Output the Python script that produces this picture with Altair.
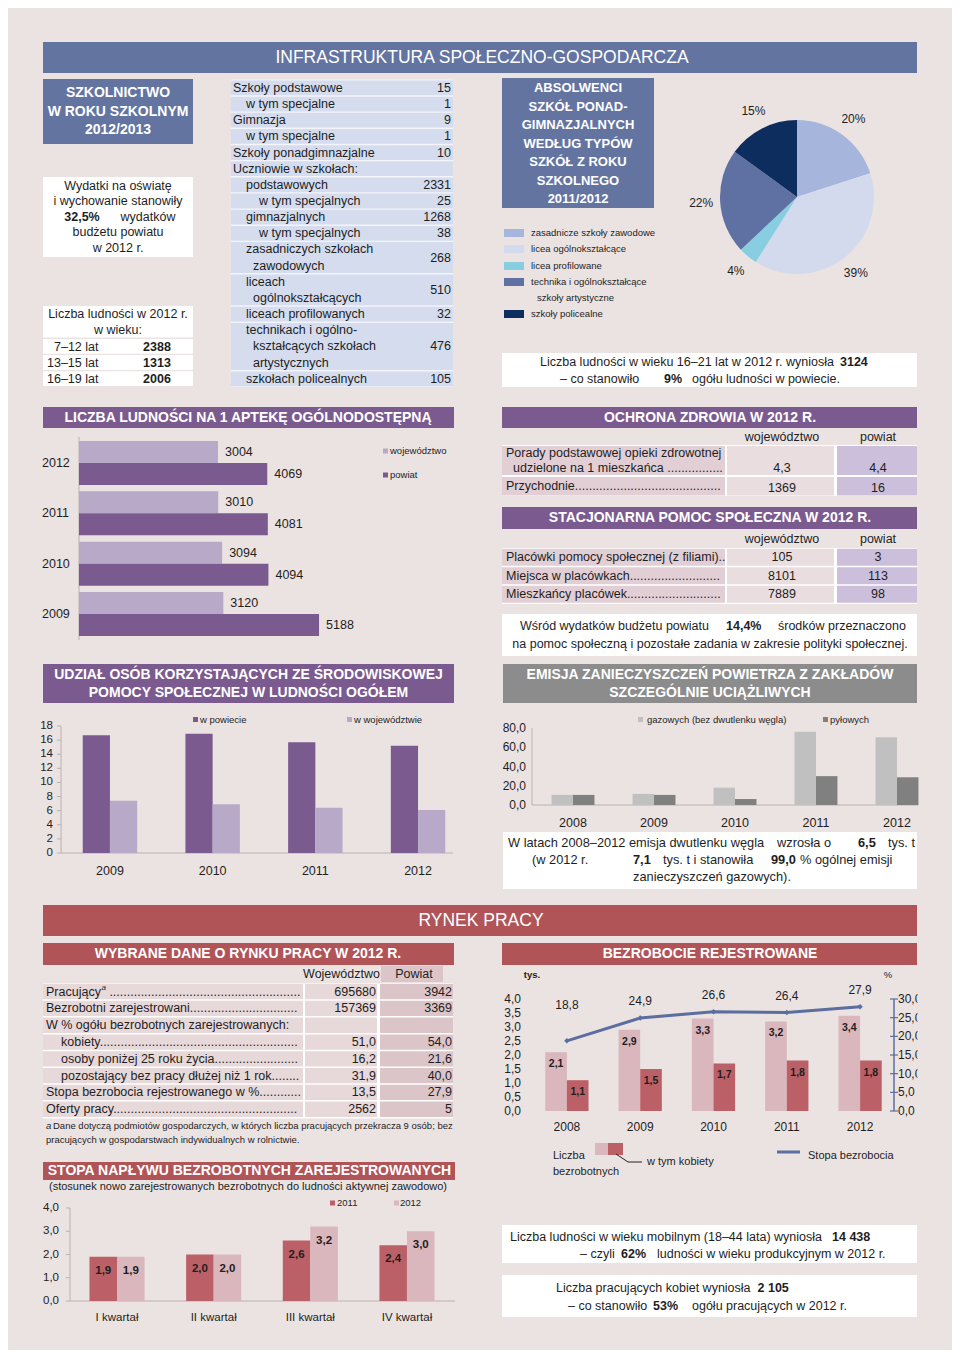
import altair as alt
import pandas as pd

OX = OY = 8
W, H = 944, 1342
FONT = "Liberation Sans"
BG = "#ebe3e1"; WHITE = "#ffffff"; TXT = "#1e1e1e"
SLATE = "#6474a1"; TBLUE = "#d4dcee"
PURPLE = "#7b5b8f"; LPURPLE = "#b9a9c9"
GREY = "#8c8c8c"; LGREY = "#c0c0c0"; DGREY = "#808080"
RED = "#b05458"; RED2 = "#bb6066"; LPINK = "#dab6bd"
HC_LABEL = "#e2ced5"; HC_WOJ = "#e9dde0"; HC_POW = "#ccbfdb"
LC_LABEL = "#e7d8da"; LC_POW = "#dcc5c9"
AXIS = "#b8b2b2"; LINEC = "#5b6e9f"

# ------------------------------------------------------------------ data
header_title = "INFRASTRUKTURA SPOŁECZNO-GOSPODARCZA"
labour_title = "RYNEK PRACY"
school_title = ["SZKOLNICTWO", "W ROKU SZKOLNYM", "2012/2013"]
edu_share = "32,5%"
age_groups = ["7–12 lat", "13–15 lat", "16–19 lat"]
age_pop = ["2388", "1313", "2006"]
school_rows = [["Szkoły podstawowe"], ["w tym specjalne"], ["Gimnazja"], ["w tym specjalne"],
               ["Szkoły ponadgimnazjalne"], ["Uczniowie w szkołach:"], ["podstawowych"],
               ["w tym specjalnych"], ["gimnazjalnych"], ["w tym specjalnych"],
               ["zasadniczych szkołach", "zawodowych"], ["liceach", "ogólnokształcących"],
               ["liceach profilowanych"],
               ["technikach i ogólno-", "kształcących szkołach", "artystycznych"],
               ["szkołach policealnych"]]
school_levels = [0, 1, 0, 1, 0, 0, 1, 2, 1, 2, 1, 1, 1, 1, 1]
school_values = ["15", "1", "9", "1", "10", "", "2331", "25", "1268", "38", "268", "510", "32", "476", "105"]

grad_title = ["ABSOLWENCI", "SZKÓŁ PONAD-", "GIMNAZJALNYCH", "WEDŁUG TYPÓW", "SZKÓŁ Z ROKU",
              "SZKOLNEGO", "2011/2012"]
grad_types = ["zasadnicze szkoły zawodowe", "licea ogólnokształcące", "licea profilowane",
              "technika i ogólnokształcące szkoły artystyczne", "szkoły policealne"]
grad_share = [20, 39, 4, 22, 15]
grad_colors = ["#a5b5dc", "#d3daee", "#86cee0", "#5f71a2", "#0d2d5e"]
pop_16_21 = "3124"; pop_16_21_share = "9%"

pharm_years = ["2012", "2011", "2010", "2009"]
pharm_woj = [3004, 3010, 3094, 3120]
pharm_pow = [4069, 4081, 4094, 5188]

health_woj = ["4,3", "1369"]
health_pow = ["4,4", "16"]
aid_labels = ["Placówki pomocy społecznej (z filiami)..", "Miejsca w placówkach", "Mieszkańcy placówek"]
aid_woj = ["105", "8101", "7889"]
aid_pow = ["3", "113", "98"]
aid_budget = "14,4%"

sa_years = ["2009", "2010", "2011", "2012"]
sa_pow = [16.7, 16.9, 15.7, 15.2]
sa_woj = [7.4, 6.9, 6.4, 6.1]
sa_ticks = [0, 2, 4, 6, 8, 10, 12, 14, 16, 18]

em_years = ["2008", "2009", "2010", "2011", "2012"]
em_gas = [10.5, 11.5, 18.0, 76.0, 70.3]
em_dust = [10.5, 10.5, 6.2, 30.0, 28.8]
em_ticks = [0, 20, 40, 60, 80]
co2_growth = "6,5"; co2_2012 = "7,1"; co2_share = "99,0"

lab_labels = ["Pracujący", "Bezrobotni zarejestrowani", "W % ogółu bezrobotnych zarejestrowanych:",
              "kobiety", "osoby poniżej 25 roku życia", "pozostający bez pracy dłużej niż 1 rok",
              "Stopa bezrobocia rejestrowanego w %", "Oferty pracy"]
lab_levels = [0, 0, 0, 1, 1, 1, 0, 0]
lab_woj = ["695680", "157369", "", "51,0", "16,2", "31,9", "13,5", "2562"]
lab_pow = ["3942", "3369", "", "54,0", "21,6", "40,0", "27,9", "5"]

bz_years = ["2008", "2009", "2010", "2011", "2012"]
bz_total = [2.1, 2.9, 3.3, 3.2, 3.4]
bz_women = [1.1, 1.5, 1.7, 1.8, 1.8]
bz_rate = [18.8, 24.9, 26.6, 26.4, 27.9]
bz_ticks_l = [0, 0.5, 1.0, 1.5, 2.0, 2.5, 3.0, 3.5, 4.0]
bz_ticks_r = [0, 5, 10, 15, 20, 25, 30]

in_quarters = ["I kwartał", "II kwartał", "III kwartał", "IV kwartał"]
in_2011 = [1.9, 2.0, 2.6, 2.4]
in_2012 = [1.9, 2.0, 3.2, 3.0]
in_ticks = [0, 1, 2, 3, 4]

mobile_pop = "14 438"; mobile_share = "62%"
women_work = "2 105"; women_share = "53%"


def fmt1(v):
    return f"{v:.1f}".replace(".", ",")


# ------------------------------------------------------------------ text metrics (Arial-like)
CW = dict(zip("abcdefghijklmnopqrstuvwxyz",
              [556, 556, 500, 556, 556, 278, 556, 556, 222, 222, 500, 222, 833, 556, 556, 556, 556, 333,
               500, 278, 556, 500, 722, 500, 500, 500]))
CW.update(dict(zip("ABCDEFGHIJKLMNOPQRSTUVWXYZ",
                   [667, 667, 722, 722, 667, 611, 778, 722, 278, 500, 667, 556, 833, 722, 778, 667, 778,
                    722, 667, 611, 722, 667, 944, 667, 667, 611])))
CW.update({'ą': 556, 'ć': 500, 'ę': 556, 'ł': 222, 'ń': 556, 'ó': 556, 'ś': 500, 'ź': 500, 'ż': 500,
           'Ł': 556, 'Ś': 667, 'Ż': 611, 'Ó': 778, ' ': 278, '.': 278, ',': 278, '(': 333, ')': 333,
           '-': 333, '–': 556, '%': 889, ':': 278})


def tw(s, size=12.5):
    return sum(CW.get(c, 556) for c in s) * size / 1000.0


def leader(label, x0, x1, size=12.5):
    n = int((x1 - x0 - tw(label, size)) / tw(".", size))
    return label + "." * max(n, 0)


# ------------------------------------------------------------------ layout primitives
rects, texts, rules = [], [], []


def R(x1, y1, x2, y2, fill):
    rects.append(dict(x=x1 - OX, x2=x2 - OX, y=y1 - OY, y2=y2 - OY, fill=fill))


def T(x, y, s, size=12.5, color=TXT, weight="normal", align="left", style="normal"):
    texts.append(dict(x=x - OX, y=y - OY, text=s, size=size, color=color, weight=weight,
                      align=align, style=style))


def L(x1, y1, x2, y2, color=AXIS, w=1.0):
    rules.append(dict(x=x1 - OX, x2=x2 - OX, y=y1 - OY, y2=y2 - OY, color=color, w=w))


R(0, 0, 960, 1358, BG)

# ---- headers
R(43, 42, 917, 73, SLATE)
T(482, 58, header_title, 17.5, WHITE, align="center")
R(43, 905, 917, 936, RED)
T(481, 920.5, labour_title, 17.5, WHITE, align="center")

# ---- schools
R(43, 79, 193, 144, SLATE)
for i, s in enumerate(school_title):
    T(118, 93 + i * 18.5, s, 14, WHITE, "bold", "center")
R(43, 177, 193, 257, WHITE)
T(118, 186, "Wydatki na oświatę", align="center")
T(118, 201, "i wychowanie stanowiły", align="center")
T(82, 216.5, edu_share, weight="bold", align="center")
T(148, 216.5, "wydatków", align="center")
T(118, 232, "budżetu powiatu", align="center")
T(118, 248, "w 2012 r.", align="center")

R(43, 306, 193, 337.5, WHITE)
T(118, 314, "Liczba ludności w 2012 r.", align="center")
T(118, 330, "w wieku:", align="center")
for i, (g, v) in enumerate(zip(age_groups, age_pop)):
    top = 339 + i * 16.1
    R(43, top, 193, top + 14.8, WHITE)
    gx = 47 if len(g.split("–")[0]) == 2 else 54
    T(gx, top + 7.5, g)
    T(157, top + 7.5, v, weight="bold", align="center")

R(231, 79.5, 453, 387, "#f3f5fa")
LH = 16.16
cur = 79.8
indent = {0: 233, 1: 246, 2: 259}
for lines, lev, val in zip(school_rows, school_levels, school_values):
    top, bot = cur, cur + len(lines) * LH
    R(231, top + 0.7, 453, bot - 0.7, TBLUE)
    for k, ln in enumerate(lines):
        T(indent[lev] if k == 0 else 253, top + (k + 0.5) * LH, ln)
    if val:
        T(451, (top + bot) / 2, val, align="right")
    cur = bot

# ---- graduates pie section
R(502, 78, 654, 208, SLATE)
for i, s in enumerate(grad_title):
    T(578, 88 + i * 18.5, s, 13, WHITE, "bold", "center")
leg_y = [233, 249, 266, 282, 314]
for i, (name, col) in enumerate(zip(grad_types, grad_colors)):
    R(504, leg_y[i] - 4, 524, leg_y[i] + 4, col)
    if i == 3:
        T(531, leg_y[i], "technika i ogólnokształcące", 9.5)
        T(537, 298, "szkoły artystyczne", 9.5)
    else:
        T(531, leg_y[i], name, 9.5)
R(502, 353, 917, 387, WHITE)
T(540, 362, "Liczba ludności w wieku 16–21 lat w 2012 r. wyniosła")
T(840, 362, pop_16_21, weight="bold")
T(560, 378.5, "– co stanowiło")
T(664, 378.5, pop_16_21_share, weight="bold")
T(692, 378.5, "ogółu ludności w powiecie.")

# ---- pharmacy
R(43, 407, 454, 428, PURPLE)
T(248, 417.5, "LICZBA LUDNOŚCI NA 1 APTEKĘ OGÓLNODOSTĘPNĄ", 14, WHITE, "bold", "center")
R(383, 448.5, 388, 453.5, LPURPLE)
T(390, 451, "województwo", 9.5)
R(383, 472.5, 388, 477.5, PURPLE)
T(390, 475, "powiat", 9.5)
L(79, 437, 79, 640)

# ---- health
R(502, 407, 917, 428, PURPLE)
T(710, 417.5, "OCHRONA ZDROWIA W 2012 R.", 14, WHITE, "bold", "center")
T(782, 437, "województwo", align="center")
T(878, 437, "powiat", align="center")
R(502, 445, 917, 496, WHITE)
hrows = [(446, 475), (477, 495.5)]
for (t, b), wv, pv in zip(hrows, health_woj, health_pow):
    R(502, t, 725, b, HC_LABEL); R(727, t, 834, b, HC_WOJ); R(837, t, 917, b, HC_POW)
    T(782, b - 7.5, wv, align="center"); T(878, b - 7.5, pv, align="center")
T(506, 453, "Porady podstawowej opieki zdrowotnej")
T(513, 468, leader("udzielone na 1 mieszkańca ", 513, 723))
T(506, 486, leader("Przychodnie", 506, 723))

R(502, 507, 917, 529, PURPLE)
T(710, 518, "STACJONARNA POMOC SPOŁECZNA W 2012 R.", 14, WHITE, "bold", "center")
T(782, 539, "województwo", align="center")
T(878, 539, "powiat", align="center")
R(502, 548, 917, 604, WHITE)
for i, (lb, wv, pv) in enumerate(zip(aid_labels, aid_woj, aid_pow)):
    t = 548.7 + i * 18.5
    b = t + 17
    R(502, t, 725, b, HC_LABEL); R(727, t, 834, b, HC_WOJ); R(837, t, 917, b, HC_POW)
    txt_ = lb if lb.endswith("..") else leader(lb, 506, 723)
    T(506, (t + b) / 2, txt_)
    T(782, (t + b) / 2, wv, align="center"); T(878, (t + b) / 2, pv, align="center")
R(502, 614, 917, 656, WHITE)
T(520, 625.5, "Wśród wydatków budżetu powiatu")
T(726, 625.5, aid_budget, weight="bold")
T(778, 625.5, "środków przeznaczono")
T(710, 643.5, "na pomoc społeczną i pozostałe zadania w zakresie polityki społecznej.", align="center")

# ---- social aid share
R(43, 664, 454, 703, PURPLE)
T(248.5, 675, "UDZIAŁ OSÓB KORZYSTAJĄCYCH ZE ŚRODOWISKOWEJ", 14, WHITE, "bold", "center")
T(248.5, 693, "POMOCY SPOŁECZNEJ W LUDNOŚCI OGÓŁEM", 14, WHITE, "bold", "center")
R(193, 717, 198, 722, PURPLE); T(200, 719.5, "w powiecie", 9.5)
R(347, 717, 352, 722, LPURPLE); T(354, 719.5, "w województwie", 9.5)
L(61, 726, 61, 853); L(61, 853, 453, 853)

# ---- emissions
R(503, 664, 917, 703, GREY)
T(710, 675, "EMISJA ZANIECZYSZCZEŃ POWIETRZA Z ZAKŁADÓW", 14, WHITE, "bold", "center")
T(710, 693, "SZCZEGÓLNIE UCIĄŻLIWYCH", 14, WHITE, "bold", "center")
R(638, 717, 643, 722, LGREY); T(647, 719.5, "gazowych (bez dwutlenku węgla)", 9.5)
R(823, 717, 828, 722, DGREY); T(830, 719.5, "pyłowych", 9.5)
L(532, 728, 532, 805); L(532, 805, 918, 805)
R(503, 832, 917, 889, WHITE)
T(508, 843, "W latach 2008–2012 emisja dwutlenku węgla", 12.8)
T(777, 843, "wzrosła o", 12.8)
T(858, 843, co2_growth, 12.8, weight="bold")
T(888, 843, "tys. t", 12.8)
T(532, 860, "(w 2012 r.", 12.8)
T(633, 860, co2_2012, 12.8, weight="bold")
T(663, 860, "tys. t i stanowiła", 12.8)
T(771, 860, co2_share, 12.8, weight="bold")
T(800, 860, "% ogólnej emisji", 12.8)
T(712, 877, "zanieczyszczeń gazowych).", 12.8, align="center")

# ---- labour table
R(43, 943, 454, 965, RED)
T(248, 954, "WYBRANE DANE O RYNKU PRACY W 2012 R.", 14, WHITE, "bold", "center")
R(381, 966, 443, 982, LC_POW)
T(341.5, 973.5, "Województwo", align="center")
T(414, 973.5, "Powiat", align="center")
R(43, 983.5, 453, 1118.5, WHITE)
for i, (lb, lev, wv, pv) in enumerate(zip(lab_labels, lab_levels, lab_woj, lab_pow)):
    t = 984 + i * 16.8
    b = t + 15.3
    c = (t + b) / 2
    R(43, t, 303, b, LC_LABEL); R(305, t, 377, b, LC_LABEL); R(380, t, 453, b, LC_POW)
    x0 = 46 if lev == 0 else 61
    if i == 0:
        T(x0, c, lb)
        sx = x0 + tw(lb) + 0.5
        T(sx, c - 4, "a", 8, style="italic")
        T(sx + 8, c, leader("", sx + 8, 301))
    elif wv == "":
        T(x0, c, lb)
    else:
        T(x0, c, leader(lb, x0, 301))
    if wv:
        T(376, c, wv, align="right")
        T(452, c, pv, align="right")
T(46, 1126, "a", 9.5, style="italic")
T(53, 1126, "Dane dotyczą podmiotów gospodarczych, w których liczba pracujących przekracza 9 osób; bez", 9.5)
T(46, 1140, "pracujących w gospodarstwach indywidualnych w rolnictwie.", 9.5)

# ---- registered unemployment
R(502, 943, 917, 965, RED)
T(710, 954, "BEZROBOCIE REJESTROWANE", 14, WHITE, "bold", "center")
T(532, 975, "tys.", 9.5, weight="bold", align="center")
T(888, 975, "%", 9.5, align="center")
L(894, 999, 894, 1111, LINEC, 1.5)
R(595, 1143, 608, 1155, LPINK); R(608, 1143, 623, 1155, RED2)
L(616, 1154, 628, 1162, "#222", 1); L(628, 1162, 642, 1162, "#222", 1)
T(553, 1156, "Liczba", 11); T(553, 1172, "bezrobotnych", 11)
T(647, 1162, "w tym kobiety", 11)
L(777, 1152, 800, 1152, LINEC, 3)
T(808, 1156, "Stopa bezrobocia", 11)

# ---- inflow
R(43, 1162, 455, 1180, RED)
T(249.5, 1171, "STOPA NAPŁYWU BEZROBOTNYCH ZAREJESTROWANYCH", 14, WHITE, "bold", "center")
T(248, 1187, "(stosunek nowo zarejestrowanych bezrobotnych do ludności aktywnej zawodowo)", 11, align="center")
R(330, 1200.5, 335, 1205.5, RED2); T(337, 1203, "2011", 9.5)
R(394, 1200.5, 399, 1205.5, LPINK); T(400, 1203, "2012", 9.5)
L(70, 1208, 70, 1301); L(70, 1301, 455, 1301)

# ---- bottom right boxes
R(502, 1225, 917, 1263, WHITE)
T(510, 1237, "Liczba ludności w wieku mobilnym (18–44 lata) wyniosła")
T(832, 1237, mobile_pop, weight="bold")
T(580, 1254, "– czyli")
T(621, 1254, mobile_share, weight="bold")
T(657, 1254, "ludności w wieku produkcyjnym w 2012 r.")
R(502, 1275, 917, 1317, WHITE)
s1 = "Liczba pracujących kobiet wyniosła"
T(556, 1288, s1)
T(556 + tw(s1) + 7, 1288, women_work, weight="bold")
T(568, 1305.5, "– co stanowiło")
T(653, 1305.5, women_share, weight="bold")
T(692, 1305.5, "ogółu pracujących w 2012 r.")

# ------------------------------------------------------------------ layer builders
PX = dict(scale=None, axis=None)


def rect_layer(rows):
    return alt.Chart(pd.DataFrame(rows)).mark_rect().encode(
        x=alt.X("x:Q", **PX), x2="x2:Q", y=alt.Y("y:Q", **PX), y2="y2:Q",
        color=alt.Color("fill:N", scale=None, legend=None))


def rule_layer(rows):
    return alt.Chart(pd.DataFrame(rows)).mark_rule().encode(
        x=alt.X("x:Q", **PX), x2="x2:Q", y=alt.Y("y:Q", **PX), y2="y2:Q",
        color=alt.Color("color:N", scale=None, legend=None),
        size=alt.Size("w:Q", scale=None, legend=None))


def text_layers(rows):
    df = pd.DataFrame(rows)
    out = []
    for (wt, al, st), g in df.groupby(["weight", "align", "style"]):
        out.append(alt.Chart(g).mark_text(font=FONT, fontWeight=wt, align=al, fontStyle=st,
                                          baseline="middle").encode(
            x=alt.X("x:Q", **PX), y=alt.Y("y:Q", **PX), text="text:N",
            size=alt.Size("size:Q", scale=None, legend=None),
            color=alt.Color("color:N", scale=None, legend=None)))
    return out


def band(domain, a, b, pad, off=OX):
    return alt.Scale(domain=domain, range=[a - off, b - off], paddingInner=pad, paddingOuter=pad / 2)


def lin(d0, d1, p0, p1, off=OY):
    return alt.Scale(domain=[d0, d1], range=[p0 - off, p1 - off], nice=False, zero=False)


def offs(dom):
    return alt.Scale(domain=dom, paddingInner=0, paddingOuter=0)


def offp(dom):
    # point offsets at the centres of the two sub-bands (used for text marks)
    return alt.Scale(type="point", domain=dom, padding=0.5)


def txt(**kw):
    base = dict(font=FONT, color=TXT, baseline="middle", fontSize=12.5)
    base.update(kw)
    return base


chart_layers = []

# ---- pharmacy bars (horizontal)
ph_df = pd.DataFrame({"year": pharm_years * 2,
                      "s": ["województwo"] * 4 + ["powiat"] * 4,
                      "v": pharm_woj + pharm_pow})
ph_df["lab"] = ph_df["v"].astype(str)
ph_y = band(pharm_years, 437.8, 639.2, 0.126, OY)
ph_x = alt.Scale(domain=[0, 6000], range=[79 - OX, 79 - OX + 6000 * 0.04627], nice=False)
ph_dom = ["województwo", "powiat"]
chart_layers.append(alt.Chart(ph_df).mark_bar().encode(
    y=alt.Y("year:N", scale=ph_y, axis=None), yOffset=alt.YOffset("s:N", scale=offs(ph_dom)),
    x=alt.X("v:Q", scale=ph_x, axis=None),
    color=alt.Color("s:N", scale=alt.Scale(domain=ph_dom, range=[LPURPLE, PURPLE]), legend=None)))
chart_layers.append(alt.Chart(ph_df).mark_text(**txt(align="left", dx=7)).encode(
    y=alt.Y("year:N", scale=ph_y, axis=None), yOffset=alt.YOffset("s:N", scale=offp(ph_dom)),
    x=alt.X("v:Q", scale=ph_x, axis=None), text="lab:N"))
chart_layers.append(alt.Chart(pd.DataFrame({"year": pharm_years})).mark_text(**txt(align="left")).encode(
    y=alt.Y("year:N", scale=ph_y, axis=None), x=alt.value(42 - OX), text="year:N"))

# ---- pie
pie_df = pd.DataFrame({"cat": grad_types, "v": grad_share, "i": list(range(len(grad_share))),
                       "lab": [f"{v}%" for v in grad_share]})
pie_enc = dict(theta=alt.Theta("v:Q", stack=True), order=alt.Order("i:Q"),
               x=alt.value(797 - OX), y=alt.value(197 - OY))
chart_layers.append(alt.Chart(pie_df).mark_arc(outerRadius=77).encode(
    color=alt.Color("cat:N", scale=alt.Scale(domain=grad_types, range=grad_colors), legend=None), **pie_enc))
chart_layers.append(alt.Chart(pie_df).mark_text(radius=96, **txt(align="center", fontSize=12)).encode(
    text="lab:N", detail="cat:N", **pie_enc))

# ---- social aid share bars
sa_df = pd.DataFrame({"year": sa_years * 2, "s": ["pow"] * 4 + ["woj"] * 4, "v": sa_pow + sa_woj})
sa_x = band(sa_years, 58.6, 469.4, 0.47)
sa_y = lin(0, 18, 853, 726)
chart_layers.append(alt.Chart(sa_df).mark_bar().encode(
    x=alt.X("year:N", scale=sa_x, axis=None), xOffset=alt.XOffset("s:N", scale=offs(["pow", "woj"])),
    y=alt.Y("v:Q", scale=sa_y, axis=None),
    color=alt.Color("s:N", scale=alt.Scale(domain=["pow", "woj"], range=[PURPLE, LPURPLE]), legend=None)))
sa_t = pd.DataFrame({"t": sa_ticks, "lab": [str(t) for t in sa_ticks]})
chart_layers.append(alt.Chart(sa_t).mark_text(**txt(align="right", fontSize=11.5)).encode(
    y=alt.Y("t:Q", scale=sa_y, axis=None), x=alt.value(53 - OX), text="lab:N"))
chart_layers.append(alt.Chart(sa_t).mark_rule(color=AXIS).encode(
    y=alt.Y("t:Q", scale=sa_y, axis=None), x=alt.value(57 - OX), x2=alt.value(61 - OX)))
chart_layers.append(alt.Chart(pd.DataFrame({"year": sa_years})).mark_text(**txt(align="center")).encode(
    x=alt.X("year:N", scale=sa_x, axis=None), y=alt.value(871 - OY), text="year:N"))

# ---- emissions bars
em_df = pd.DataFrame({"year": em_years * 2, "s": ["gas"] * 5 + ["dust"] * 5, "v": em_gas + em_dust})
em_x = band(em_years, 532.5, 937.5, 0.47)
em_y = lin(0, 80, 805, 728)
chart_layers.append(alt.Chart(em_df).mark_bar().encode(
    x=alt.X("year:N", scale=em_x, axis=None), xOffset=alt.XOffset("s:N", scale=offs(["gas", "dust"])),
    y=alt.Y("v:Q", scale=em_y, axis=None),
    color=alt.Color("s:N", scale=alt.Scale(domain=["gas", "dust"], range=[LGREY, DGREY]), legend=None)))
em_t = pd.DataFrame({"t": em_ticks, "lab": [fmt1(t) for t in em_ticks]})
chart_layers.append(alt.Chart(em_t).mark_text(**txt(align="right", fontSize=12)).encode(
    y=alt.Y("t:Q", scale=em_y, axis=None), x=alt.value(526 - OX), text="lab:N"))
chart_layers.append(alt.Chart(pd.DataFrame({"year": em_years})).mark_text(**txt(align="center", fontSize=12.5)).encode(
    x=alt.X("year:N", scale=em_x, axis=None), y=alt.value(823 - OY), text="year:N"))

# ---- registered unemployment
bz_df = pd.DataFrame({"year": bz_years * 2, "s": ["tot"] * 5 + ["wom"] * 5, "v": bz_total + bz_women})
bz_df["lab"] = [fmt1(v) for v in bz_df["v"]]
bz_x = band(bz_years, 530.25, 896.75, 0.41)
bz_yl = lin(0, 4, 1111, 999)
bz_yr = lin(0, 30, 1111, 999)
chart_layers.append(alt.Chart(bz_df).mark_bar().encode(
    x=alt.X("year:N", scale=bz_x, axis=None), xOffset=alt.XOffset("s:N", scale=offs(["tot", "wom"])),
    y=alt.Y("v:Q", scale=bz_yl, axis=None),
    color=alt.Color("s:N", scale=alt.Scale(domain=["tot", "wom"], range=[LPINK, RED2]), legend=None)))
chart_layers.append(alt.Chart(bz_df).mark_text(**txt(align="center", fontSize=10.5, fontWeight="bold", dy=12)).encode(
    x=alt.X("year:N", scale=bz_x, axis=None), xOffset=alt.XOffset("s:N", scale=offp(["tot", "wom"])),
    y=alt.Y("v:Q", scale=bz_yl, axis=None), text="lab:N"))
rate_df = pd.DataFrame({"year": bz_years, "r": bz_rate, "lab": [fmt1(v) for v in bz_rate]})
rate_enc = dict(x=alt.X("year:N", scale=bz_x, axis=None), y=alt.Y("r:Q", scale=bz_yr, axis=None))
chart_layers.append(alt.Chart(rate_df).mark_line(color=LINEC, strokeWidth=3).encode(**rate_enc))
chart_layers.append(alt.Chart(rate_df).mark_point(shape="diamond", filled=True, size=30, color=LINEC,
                                                  opacity=1).encode(**rate_enc))
chart_layers.append(alt.Chart(rate_df).transform_calculate(ly="max(datum.r + 4.5, 28.5)").mark_text(
    **txt(align="center", fontSize=12)).encode(
    x=alt.X("year:N", scale=bz_x, axis=None), y=alt.Y("ly:Q", scale=bz_yr, axis=None), text="lab:N"))
bzl = pd.DataFrame({"t": bz_ticks_l, "lab": [fmt1(t) for t in bz_ticks_l]})
chart_layers.append(alt.Chart(bzl).mark_text(**txt(align="right", fontSize=12)).encode(
    y=alt.Y("t:Q", scale=bz_yl, axis=None), x=alt.value(521 - OX), text="lab:N"))
bzr = pd.DataFrame({"t": bz_ticks_r, "lab": [fmt1(t) for t in bz_ticks_r]})
chart_layers.append(alt.Chart(bzr).mark_text(**txt(align="left", fontSize=12)).encode(
    y=alt.Y("t:Q", scale=bz_yr, axis=None), x=alt.value(898 - OX), text="lab:N"))
chart_layers.append(alt.Chart(bzr).mark_rule(color=LINEC, strokeWidth=1.2).encode(
    y=alt.Y("t:Q", scale=bz_yr, axis=None), x=alt.value(890 - OX), x2=alt.value(898 - OX)))
chart_layers.append(alt.Chart(pd.DataFrame({"year": bz_years})).mark_text(**txt(align="center", fontSize=12)).encode(
    x=alt.X("year:N", scale=bz_x, axis=None), y=alt.value(1127 - OY), text="year:N"))

# ---- inflow rate
in_df = pd.DataFrame({"q": in_quarters * 2, "s": ["2011"] * 4 + ["2012"] * 4, "v": in_2011 + in_2012})
in_df["lab"] = [fmt1(v) for v in in_df["v"]]
in_x = band(in_quarters, 68.7, 455.3, 0.43)
in_y = lin(0, 4, 1301, 1208)
chart_layers.append(alt.Chart(in_df).mark_bar().encode(
    x=alt.X("q:N", scale=in_x, axis=None), xOffset=alt.XOffset("s:N", scale=offs(["2011", "2012"])),
    y=alt.Y("v:Q", scale=in_y, axis=None),
    color=alt.Color("s:N", scale=alt.Scale(domain=["2011", "2012"], range=[RED2, LPINK]), legend=None)))
chart_layers.append(alt.Chart(in_df).mark_text(**txt(align="center", fontSize=11.5, fontWeight="bold", dy=14)).encode(
    x=alt.X("q:N", scale=in_x, axis=None), xOffset=alt.XOffset("s:N", scale=offp(["2011", "2012"])),
    y=alt.Y("v:Q", scale=in_y, axis=None), text="lab:N"))
in_t = pd.DataFrame({"t": in_ticks, "lab": [fmt1(t) for t in in_ticks]})
chart_layers.append(alt.Chart(in_t).mark_text(**txt(align="right", fontSize=11.5)).encode(
    y=alt.Y("t:Q", scale=in_y, axis=None), x=alt.value(59 - OX), text="lab:N"))
chart_layers.append(alt.Chart(in_t).mark_rule(color=AXIS).encode(
    y=alt.Y("t:Q", scale=in_y, axis=None), x=alt.value(66 - OX), x2=alt.value(70 - OX)))
chart_layers.append(alt.Chart(pd.DataFrame({"q": in_quarters})).mark_text(**txt(align="center", fontSize=11.5)).encode(
    x=alt.X("q:N", scale=in_x, axis=None), y=alt.value(1318 - OY), text="q:N"))

cover = rect_layer([dict(x=917.5 - OX, x2=960, y=960 - 8, y2=1130 - OY, fill=BG)])

layers = [rect_layer(rects), rule_layer(rules)] + chart_layers + text_layers(texts) + [cover]

chart = alt.layer(*layers).resolve_scale(
    x="independent", y="independent", color="independent", size="independent",
    theta="independent", xOffset="independent", yOffset="independent"
).properties(
    width=W, height=H, padding=0, background=BG,
    autosize=alt.AutoSizeParams(type="none")
).configure_view(stroke=None)

chart.save("out.html", embed_options={"renderer": "svg", "actions": False})
